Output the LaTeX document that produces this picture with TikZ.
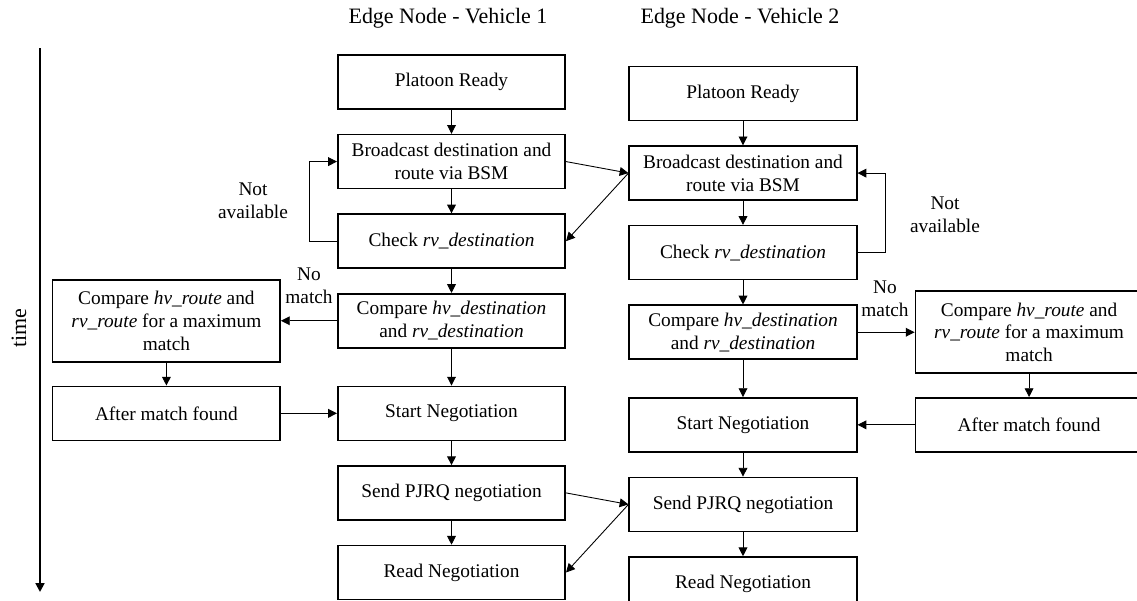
\documentclass[tikz,border=0pt]{standalone}
\usepackage{fontspec}
\setmainfont{Liberation Serif}
\usetikzlibrary{arrows.meta, positioning}

\begin{document}
\begin{tikzpicture}[
    node distance=0.48cm,
    >={Triangle[length=5pt,width=5pt]},
    block/.style={rectangle, draw, line width=0.9pt, align=center,
                  minimum width=4.55cm, minimum height=1.08cm, inner sep=2pt,
                  font=\fontsize{11}{13}\selectfont},
    note/.style={align=center, font=\fontsize{11}{13}\selectfont},
    flow/.style={->, line width=0.5pt}]
\useasboundingbox (0,0) rectangle (22.74,-12);

% titles
\node[font=\fontsize{12.5}{15}\selectfont] (title1) at (8.96,-0.36) {Edge Node - Vehicle 1};
\node[font=\fontsize{12.5}{15}\selectfont] (title2) at (14.8,-0.36) {Edge Node - Vehicle 2};

% time axis
\coordinate (ttop) at (0.8,-0.96);
\coordinate (tbot) at (0.8,-11.84);
\draw[->, line width=1.1pt] (ttop) -- (tbot);
\node[rotate=90, font=\fontsize{12.5}{15}\selectfont] (timelbl) at (0.38,-6.56) {time};

% vehicle 1
\node[block] (plat1) at (9.03,-1.64) {Platoon Ready};
\node[block, below=of plat1] (bsm1) {Broadcast destination and\\route via BSM};
\node[block, below=of bsm1] (chk1) {Check \textit{rv\_destination}};
\node[block, below=of chk1] (cmp1) {Compare \textit{hv\_destination}\\and \textit{rv\_destination}};
\node[block, below=0.74cm of cmp1] (neg1) {Start Negotiation};
\node[block, below=of neg1] (pjrq1) {Send PJRQ negotiation};
\node[block, below=of pjrq1] (read1) {Read Negotiation};
\node[block, minimum height=1.64cm, left=1.12cm of cmp1] (route1) {Compare \textit{hv\_route} and\\\textit{rv\_route} for a maximum\\match};
\node[block, left=1.12cm of neg1] (found1) {After match found};

% vehicle 2
\node[block] (plat2) at (14.86,-1.87) {Platoon Ready};
\node[block, below=of plat2] (bsm2) {Broadcast destination and\\route via BSM};
\node[block, below=of bsm2] (chk2) {Check \textit{rv\_destination}};
\node[block, below=of chk2] (cmp2) {Compare \textit{hv\_destination}\\and \textit{rv\_destination}};
\node[block, below=0.74cm of cmp2] (neg2) {Start Negotiation};
\node[block, below=of neg2] (pjrq2) {Send PJRQ negotiation};
\node[block, below=of pjrq2] (read2) {Read Negotiation};
\node[block, minimum height=1.64cm, right=1.14cm of cmp2] (route2) {Compare \textit{hv\_route} and\\\textit{rv\_route} for a maximum\\match};
\node[block, right=1.14cm of neg2] (found2) {After match found};

% labels
\node[note] (na1) at (5.06,-4.01) {Not\\available};
\node[note] (na2) at (18.9,-4.3) {Not\\available};
\node[note] (nm1) at (6.18,-5.71) {No\\match};
\node[note] (nm2) at (17.7,-5.97) {No\\match};

% arrows vehicle 1
\draw[flow] (plat1) -- (bsm1);
\draw[flow] (bsm1) -- (chk1);
\draw[flow] (chk1) -- (cmp1);
\draw[flow] (cmp1) -- (neg1);
\draw[flow] (neg1) -- (pjrq1);
\draw[flow] (pjrq1) -- (read1);
\draw[flow] (chk1.west) -- ++(-0.56,0) |- (bsm1.west);
\draw[flow] (cmp1.west) -- (route1.east);
\draw[flow] (route1) -- (found1);
\draw[flow] (found1) -- (neg1);

% arrows vehicle 2
\draw[flow] (plat2) -- (bsm2);
\draw[flow] (bsm2) -- (chk2);
\draw[flow] (chk2) -- (cmp2);
\draw[flow] (cmp2) -- (neg2);
\draw[flow] (neg2) -- (pjrq2);
\draw[flow] (pjrq2) -- (read2);
\draw[flow] (chk2.east) -- ++(0.56,0) |- (bsm2.east);
\draw[flow] (cmp2.east) -- (route2.west);
\draw[flow] (route2) -- (found2);
\draw[flow] (found2) -- (neg2);

% between vehicles
\draw[flow] (bsm1.east) -- (bsm2.west);
\draw[flow] (bsm2.west) -- (chk1.east);
\draw[flow] (pjrq1.east) -- (pjrq2.west);
\draw[flow] (pjrq2.west) -- (read1.east);
\end{tikzpicture}
\end{document}
